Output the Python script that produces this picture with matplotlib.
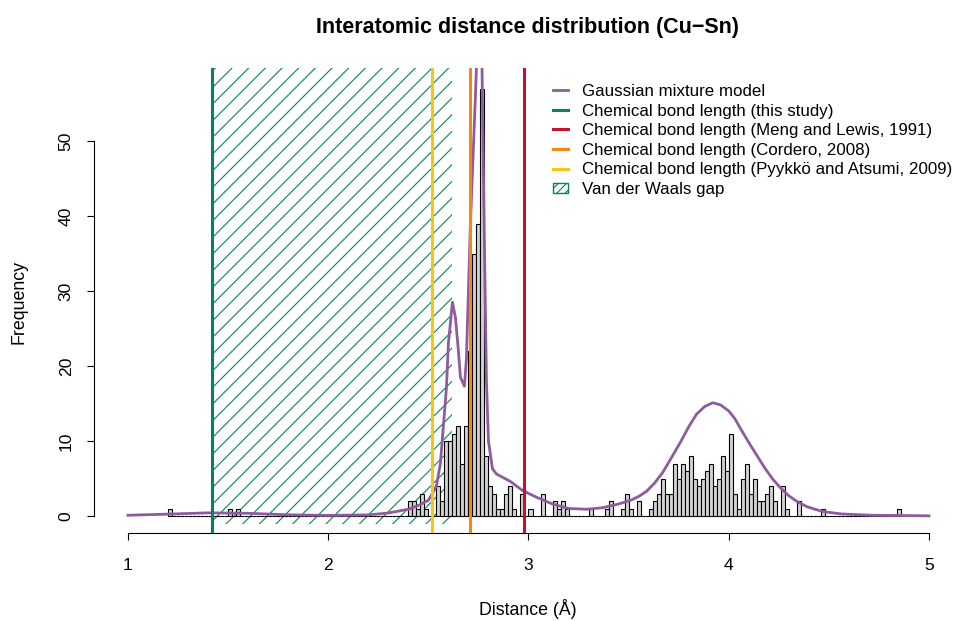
import numpy as np
import matplotlib
matplotlib.use('Agg')
import matplotlib.pyplot as plt
from matplotlib.lines import Line2D
from matplotlib.patches import Patch, Rectangle

plt.rcParams['font.family'] = ['Liberation Sans', 'DejaVu Sans']
plt.rcParams['hatch.linewidth'] = 0.8

# histogram (bin width 0.02 A), only the non-empty bins are listed
bin_width = 0.02
bin_first, bin_last = 1.20, 4.84
hist_left = [1.20, 1.50, 1.54,
             2.40, 2.42, 2.44, 2.46, 2.48,
             2.54, 2.56, 2.58, 2.60, 2.62, 2.64, 2.66, 2.68, 2.70, 2.72, 2.74, 2.76,
             2.78, 2.80, 2.82, 2.84, 2.86, 2.88, 2.90, 2.92, 2.96,
             3.00, 3.06, 3.12, 3.14, 3.16, 3.18,
             3.30, 3.38, 3.40, 3.46, 3.48, 3.50, 3.54,
             3.60, 3.62, 3.64, 3.66, 3.68, 3.70, 3.72, 3.74, 3.76, 3.78, 3.80,
             3.82, 3.84, 3.86, 3.88, 3.90, 3.92, 3.94, 3.96, 3.98, 4.00,
             4.02, 4.04, 4.06, 4.08, 4.10, 4.12, 4.14, 4.16, 4.18, 4.20, 4.22,
             4.26, 4.28, 4.34, 4.46, 4.84]
hist_count = [1, 1, 1,
              2, 2, 1, 3, 1,
              4, 2, 10, 10, 11, 12, 7, 12, 22, 35, 39, 57,
              8, 4, 3, 1, 1, 3, 4, 1, 3,
              1, 3, 2, 1, 2, 1,
              1, 1, 2, 1, 3, 1, 2,
              1, 2, 3, 5, 3, 3, 7, 5, 7, 6, 8,
              5, 4, 5, 6, 7, 4, 5, 8, 6, 11,
              3, 1, 5, 7, 3, 5, 2, 2, 3, 4, 2,
              4, 1, 2, 1, 1]

# Gaussian mixture model curve
gmm_x = [1.00, 1.20, 1.40, 1.60, 1.80, 2.00, 2.20, 2.30, 2.36, 2.40, 2.45, 2.50,
         2.52, 2.54, 2.56, 2.575, 2.59, 2.60, 2.62, 2.635, 2.65, 2.66, 2.68, 2.69,
         2.71, 2.735, 2.76, 2.78, 2.79, 2.80, 2.82, 2.84, 2.91, 2.97, 3.04, 3.12,
         3.20, 3.29, 3.37, 3.45, 3.51, 3.55, 3.59, 3.63, 3.67, 3.71, 3.76, 3.80,
         3.84, 3.88, 3.92, 3.96, 4.00, 4.03, 4.06, 4.10, 4.14, 4.18, 4.22, 4.26,
         4.30, 4.34, 4.39, 4.43, 4.47, 4.51, 4.56, 4.64, 4.72, 5.00]
gmm_y = [0.10, 0.25, 0.42, 0.36, 0.16, 0.08, 0.15, 0.40, 0.70, 0.90, 1.40, 2.10,
         3.00, 4.00, 7.00, 12.0, 17.0, 23.0, 28.5, 26.5, 22.0, 18.5, 17.3, 21.0,
         39.0, 56.0, 75.0, 36.0, 18.0, 10.0, 6.3, 5.6, 4.6, 3.4, 2.5, 1.6,
         1.0, 0.9, 1.1, 1.6, 2.1, 2.6, 3.3, 4.4, 5.8, 7.6, 9.9, 11.9,
         13.6, 14.6, 15.1, 14.8, 14.0, 13.0, 11.6, 9.8, 8.1, 6.4, 4.9, 3.7,
         2.7, 1.95, 1.25, 0.9, 0.6, 0.45, 0.28, 0.18, 0.1, 0.02]

bond_labels = ['Chemical bond length (this study)',
               'Chemical bond length (Meng and Lewis, 1991)',
               'Chemical bond length (Cordero, 2008)',
               'Chemical bond length (Pyykkö and Atsumi, 2009)']
bond_values = [1.42, 2.98, 2.71, 2.52]
bond_colors = ['#00855F', '#C8102E', '#F5890F', '#F5C710']

vdw_gap = (1.42, 2.62)
gmm_color = '#8C5C9E'

# axes placement in pixels (954x621 figure)
W, H = 954, 621
fig = plt.figure(figsize=(W / 100, H / 100), dpi=100)
ax_l, ax_r, ax_t, ax_b = 94, 954, 68, 533
ax = fig.add_axes([ax_l / W, 1 - ax_b / H, (ax_r - ax_l) / W, (ax_b - ax_t) / H])
px_x = 200.25  # px per angstrom
px_y = 7.5     # px per count
ax.set_xlim(1 - (128 - ax_l) / px_x, 5 + (ax_r - 929) / px_x)
ax.set_ylim(-(ax_b - 516) / px_y, (516 - ax_t) / px_y)

# van der Waals gap hatch
ax.add_patch(Rectangle((vdw_gap[0], -1), vdw_gap[1] - vdw_gap[0], 70,
                       facecolor='none', edgecolor=bond_colors[0], linewidth=0,
                       hatch='//', zorder=1))

# histogram with empty bins included (drawn as flat boxes on the baseline)
n_bins = int(round((bin_last - bin_first) / bin_width)) + 1
lefts = bin_first + bin_width * np.arange(n_bins)
counts = np.zeros(n_bins)
for l, c in zip(hist_left, hist_count):
    counts[int(round((l - bin_first) / bin_width))] = c
ax.bar(lefts, counts, width=bin_width, align='edge', color='#D3D3D3',
       edgecolor='black', linewidth=0.8, zorder=2)

ax.plot(gmm_x, gmm_y, color=gmm_color, lw=2.0, zorder=3)

for v, c in zip(bond_values, bond_colors):
    ax.axvline(v, color=c, lw=2.2, zorder=4)

# R-style axes
for s in ['top', 'right']:
    ax.spines[s].set_visible(False)
ax.spines['left'].set_bounds(0, 50)
ax.spines['bottom'].set_bounds(1, 5)
ax.spines['left'].set_linewidth(0.8)
ax.spines['bottom'].set_linewidth(0.8)
ax.set_xticks([1, 2, 3, 4, 5])
ax.set_yticks([0, 10, 20, 30, 40, 50])
ax.tick_params(axis='both', length=5, width=0.8, labelsize=12.6)
ax.tick_params(axis='x', pad=13)
ax.tick_params(axis='y', pad=15)
plt.setp(ax.get_yticklabels(), rotation=90, ha='center', va='center')

fig.text(528 / W, 1 - 27 / H, 'Interatomic distance distribution (Cu\u2212Sn)',
         ha='center', va='center', fontsize=15.5, fontweight='bold')
fig.text(528 / W, 1 - 609 / H, 'Distance (Å)', ha='center', va='center', fontsize=12.8)
fig.text(19 / W, 1 - 302 / H, 'Frequency', ha='center', va='center',
         rotation=90, fontsize=12.8)

handles = [Line2D([], [], color=gmm_color, lw=2.0)]
handles += [Line2D([], [], color=c, lw=2.2) for c in bond_colors]
handles.append(Patch(facecolor='white', edgecolor=bond_colors[0], hatch='////', lw=1))
labels = ['Gaussian mixture model'] + bond_labels + ['Van der Waals gap']
ax.legend(handles, labels, loc='upper left', bbox_to_anchor=(553 / W, 1 - 84 / H),
          bbox_transform=fig.transFigure, frameon=False, fontsize=12.2,
          borderpad=0, borderaxespad=0, labelspacing=0.27, handlelength=0.86,
          handletextpad=0.85, handleheight=0.6)

fig.savefig('out.png', dpi=100)
